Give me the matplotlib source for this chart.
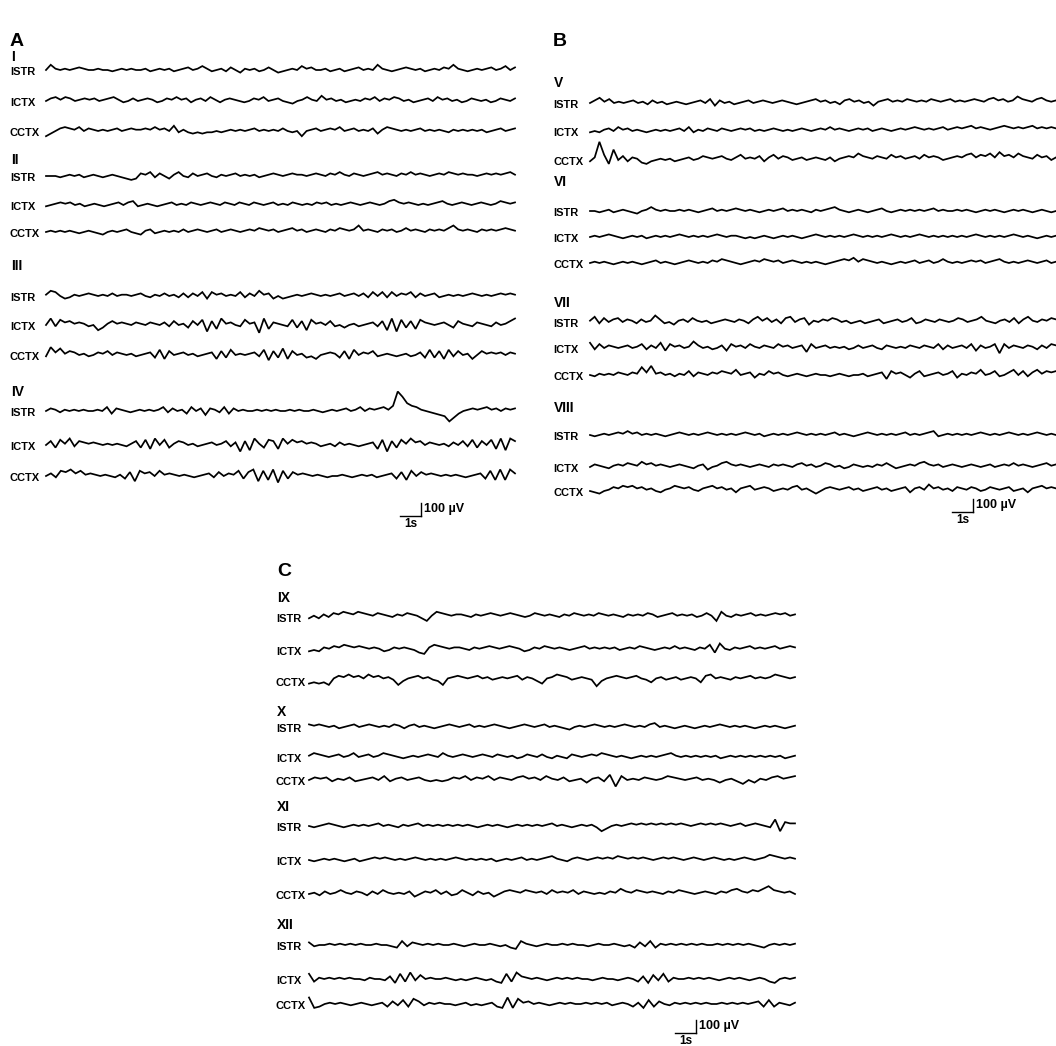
import numpy as np
import matplotlib
matplotlib.use("Agg")
import matplotlib.pyplot as plt

plt.rcParams['font.family'] = ['Liberation Sans', 'DejaVu Sans']

# ---------------- data (EEG samples, units of 10 µV) ----------------
channels = ["ISTR", "ICTX", "CCTX"]

A_I_ISTR = [0,4,1,0,1,0,1,2,1,0,0,1,0,0,-1,0,1,0,1,0,0,1,-1,0,1,0,1,-1,0,1,2,0,1,3,1,-1,0,1,-1,2,0,-2,1,0,1,-1,0,2,0,-2,-1,0,1,0,3,1,2,0,0,1,-1,0,1,-1,0,1,2,0,1,0,4,1,0,-1,0,1,2,1,0,1,-1,0,1,0,2,1,4,1,0,-1,0,1,0,1,2,0,1,3,0,2]
A_I_ICTX = [0,2,3,1,3,2,0,1,2,1,2,0,1,2,3,1,-1,0,2,0,1,2,1,-1,0,2,1,3,1,2,-1,1,2,0,3,1,-1,1,2,1,0,-1,0,2,1,3,0,1,2,0,-1,-2,0,1,3,1,0,4,1,2,0,1,-1,0,1,0,2,1,3,0,2,1,3,2,0,1,-1,0,1,2,0,3,1,2,0,1,-1,0,2,1,0,1,-1,0,2,1,0,2]
A_I_CCTX = [-4,-2,0,2,3,2,1,3,0,2,1,0,1,0,1,2,0,1,2,1,1,2,1,3,1,2,0,4,-1,1,-1,-2,-1,-2,-1,-1,0,-1,0,1,0,1,0,1,2,0,1,0,1,0,2,0,-1,0,-4,0,1,2,0,1,2,1,3,0,1,2,0,1,0,2,-2,1,3,2,1,0,1,0,1,2,0,1,0,1,0,-1,1,0,1,0,1,0,1,-1,0,1,2,0,1,2]

A_II_ISTR = [0,0,0,-1,0,1,0,1,-1,0,1,0,-1,0,1,0,-1,-2,-3,-2,2,1,3,-1,2,0,-2,1,3,0,-1,2,0,1,2,0,-1,1,0,1,2,0,1,0,1,-1,0,1,2,1,0,1,2,1,1,0,1,2,1,0,2,1,3,1,0,2,1,0,1,2,3,1,2,1,0,2,1,3,1,2,1,0,1,2,1,3,2,1,2,1,1,0,1,2,1,2,1,2,3,1]
A_II_ICTX = [-1,0,1,2,1,2,0,1,-1,0,1,0,-1,0,1,2,0,2,3,-1,0,1,0,-1,0,1,2,0,1,0,2,1,0,1,2,1,0,2,1,0,2,1,0,2,1,0,1,2,0,1,0,2,1,0,1,0,2,1,2,0,1,0,1,2,1,0,1,2,1,0,1,3,4,2,1,2,1,0,1,0,1,2,3,1,0,1,2,1,0,1,2,1,0,1,3,2,1,2]
A_II_CCTX = [0,1,0,1,0,1,0,-1,0,1,0,-1,-2,0,1,0,1,2,0,-1,-2,1,2,-1,0,1,0,1,0,2,0,1,2,1,0,1,2,0,1,2,1,0,1,2,1,3,2,1,2,0,1,2,3,1,2,0,1,2,1,0,2,1,3,2,1,2,5,1,2,1,0,2,1,2,0,1,3,1,2,1,0,2,1,2,1,3,5,2,1,2,1,0,2,1,2,1,2,3,2,1]

A_III_ISTR = [1,4,3,0,-2,-1,1,0,1,2,1,0,1,0,2,0,1,1,0,1,2,0,-1,1,0,2,0,1,-1,2,-1,2,0,3,-2,3,1,2,0,1,0,3,-1,2,0,4,1,2,-2,0,-2,-1,0,1,0,1,2,1,0,1,0,1,2,0,1,2,0,2,-1,3,0,3,-1,3,0,2,1,3,-1,2,0,1,2,-1,0,1,0,1,0,1,2,1,0,1,0,1,2,1,2,1]
A_III_ICTX = [0,5,-1,4,2,3,1,2,1,-1,0,-4,-2,1,3,1,2,1,0,2,1,0,2,1,0,2,-1,3,0,1,-2,3,0,4,-5,3,-3,5,1,2,0,-1,4,1,2,-6,5,-3,2,1,0,-1,4,-2,3,-4,4,1,2,0,3,-1,0,-2,0,1,-1,0,1,2,-1,3,-4,5,-5,4,-2,3,-3,4,2,1,0,1,2,0,-2,3,1,0,-1,2,1,0,-1,2,0,1,3,5]
A_III_CCTX = [-1,6,2,5,1,3,2,0,1,-1,0,2,1,3,0,2,1,0,1,-1,0,1,2,-2,4,-3,3,0,1,2,0,1,-1,0,1,2,-3,3,-2,4,0,1,0,1,2,-1,4,-4,3,-2,5,-3,3,0,1,-2,-1,-3,0,1,2,1,-2,3,-3,4,0,2,1,3,-1,0,1,0,-1,0,1,-1,0,2,-2,4,-2,3,-3,4,-1,3,0,1,-3,0,3,1,2,1,2,0,2,1]

A_IV_ISTR = [0,2,1,-1,1,0,1,0,1,0,0,1,0,3,-2,2,1,0,-1,0,1,0,1,0,1,3,-1,2,0,1,-2,3,0,2,-3,2,1,-1,3,-2,2,0,1,0,0,1,0,1,0,1,0,0,1,0,1,0,0,1,0,-1,0,1,0,1,2,0,1,3,0,2,1,2,3,1,4,15,11,6,4,3,1,0,-1,-2,-3,-4,-8,-5,-2,0,1,2,1,2,3,1,2,0,2,1,2]
A_IV_ICTX = [0,3,-2,4,1,5,-1,3,2,1,2,1,0,1,0,1,0,-1,1,3,-2,4,-3,5,0,4,-2,1,3,2,0,1,-1,0,1,2,0,1,3,-1,2,-5,3,-4,5,1,-2,4,3,-3,5,1,4,2,3,1,2,1,-1,0,1,-1,2,0,1,0,-1,0,1,2,-3,4,-5,3,-2,4,1,5,2,3,0,2,1,0,1,-1,2,0,3,-1,4,-2,3,0,4,-3,5,-4,5,3]
A_IV_CCTX = [0,2,-1,4,3,5,2,4,1,2,1,0,1,0,-1,1,-2,3,-4,4,2,3,0,4,1,2,1,0,1,0,-1,0,1,2,-1,3,0,2,1,4,-2,3,5,-4,4,-3,5,-5,4,-2,3,1,2,1,0,1,0,-1,0,0,1,0,-1,0,1,0,1,-1,0,1,2,-2,3,-3,4,0,3,1,2,1,0,1,0,1,0,-1,0,1,2,-2,4,-3,5,-3,5,2]

B_V_ISTR = [0,2,4,1,3,0,1,0,1,2,0,1,-1,2,0,1,-1,0,1,0,-1,0,1,2,0,3,-2,2,0,1,-1,0,1,2,0,1,2,1,0,1,2,1,0,-1,0,1,2,3,1,2,0,1,-1,2,3,1,2,0,1,-2,1,2,3,1,2,1,3,2,1,2,1,3,2,1,2,3,1,2,1,2,3,2,1,3,4,2,3,1,2,5,3,2,1,3,4,2,1,2]
B_V_ICTX = [-1,0,-1,1,2,0,3,1,2,0,1,0,-1,0,1,0,1,0,1,2,0,3,-1,1,0,2,1,0,2,1,0,1,2,1,2,0,1,0,1,2,1,0,1,0,1,2,1,0,1,2,1,3,1,2,1,0,1,2,1,2,0,1,2,1,0,1,2,1,2,3,2,1,2,1,2,3,1,2,3,2,3,4,2,3,2,1,2,3,4,3,2,3,2,3,4,2,3,2,3,2]
B_V_CCTX = [-1,2,14,4,-3,8,0,3,-1,2,1,-2,-3,-1,0,1,0,1,-1,0,1,2,0,1,3,2,1,2,3,1,0,2,4,1,2,1,3,-1,2,4,1,3,2,0,1,2,0,1,2,1,0,2,-1,1,2,3,2,5,3,2,1,3,2,1,4,2,3,1,2,3,1,4,2,3,2,0,1,2,3,2,4,5,2,4,3,5,2,6,3,4,2,5,3,2,1,4,2,3,0,2]

B_VI_ISTR = [0,0,-1,0,1,-1,0,1,0,-1,-2,0,1,3,1,0,1,0,0,1,0,1,0,-1,0,1,2,0,1,0,1,2,1,0,1,0,-1,0,1,0,1,2,0,1,0,1,0,-1,1,0,1,2,3,1,0,-1,0,1,0,-1,0,1,2,0,-1,0,1,0,1,0,1,0,1,2,0,1,0,0,1,0,1,0,-1,0,1,0,1,0,-1,0,1,0,1,0,-1,0,1,0,-1,0]
B_VI_ICTX = [0,1,0,1,2,1,0,-1,0,1,0,1,-1,0,1,0,1,0,1,2,1,0,1,0,1,0,1,2,1,0,1,1,0,-1,0,-1,0,1,0,-1,0,1,0,1,0,-1,0,1,2,1,0,1,0,1,0,1,2,1,0,1,0,1,0,1,2,1,0,1,0,1,2,1,0,1,0,1,0,1,0,1,0,1,2,1,0,1,0,1,0,1,2,1,0,1,0,-1,0,1,0,1]
B_VI_CCTX = [0,1,0,1,0,-1,0,1,0,1,0,-1,0,1,2,0,1,0,-1,0,1,2,1,0,1,0,2,1,3,2,1,0,-1,0,1,2,1,3,2,1,2,0,1,2,1,0,1,0,1,0,-1,0,1,2,3,2,4,1,3,2,1,0,1,0,-1,0,1,0,1,2,0,1,2,0,1,3,1,0,1,0,1,2,1,2,0,1,2,3,1,0,1,0,1,2,1,0,1,2,0,1]

B_VII_ISTR = [1,4,-1,3,0,2,3,0,2,1,-1,2,0,1,5,2,-1,0,-2,1,2,0,3,1,0,1,-1,0,1,2,1,0,2,1,-1,2,4,1,3,0,2,-1,3,4,0,2,3,-2,1,0,2,1,3,2,0,1,-1,0,1,-1,0,1,2,-1,0,1,2,0,1,3,-1,0,2,1,0,2,1,0,1,3,2,0,1,2,4,1,0,-1,1,2,0,3,-1,2,4,1,0,2,1,3,2]
B_VII_ICTX = [4,-1,3,0,2,1,0,1,2,0,1,3,-1,2,0,4,-2,3,1,2,0,1,5,2,0,1,-1,0,2,-2,3,1,2,0,3,1,0,2,1,0,3,1,2,0,1,2,-3,3,0,1,2,0,1,0,1,-1,0,2,0,1,2,0,-1,2,1,0,1,0,2,1,0,2,1,0,3,-1,2,0,1,2,0,3,-2,2,0,1,3,-4,3,0,2,1,0,2,1,-1,2,0,3,2]
B_VII_CCTX = [0,-1,1,0,1,0,2,1,0,2,1,6,2,7,1,2,0,1,-1,1,0,3,-1,2,1,0,2,1,3,2,1,4,0,1,2,-2,1,0,3,1,2,0,-1,0,1,0,-1,0,1,0,0,-1,0,1,0,-1,0,0,1,-1,0,1,2,-3,3,1,2,0,-2,1,3,-1,0,1,2,0,1,3,-2,1,0,2,1,4,0,1,3,-1,0,2,4,0,3,-1,2,4,1,3,2,3]

B_VIII_ISTR = [0,-1,0,1,0,1,2,1,3,1,2,0,1,0,1,0,-1,0,1,2,1,0,1,0,1,2,1,0,1,0,1,0,1,2,1,0,1,-1,0,1,0,1,0,1,2,1,0,1,0,1,0,1,2,0,1,0,-1,0,1,2,1,0,1,0,1,0,1,2,0,1,0,1,2,3,-1,0,1,0,1,0,1,0,1,2,1,0,1,0,1,2,1,0,1,0,1,2,1,0,1,0]
B_VIII_ICTX = [0,2,1,0,-1,1,2,1,3,2,1,4,2,3,1,2,1,0,1,2,1,0,-1,1,2,-2,0,1,3,4,2,1,2,1,0,1,2,1,0,2,1,2,1,0,2,3,1,2,0,1,3,2,0,1,-1,0,2,1,0,1,0,2,1,3,1,-1,0,1,2,1,3,4,2,1,2,0,1,2,1,0,1,2,1,0,1,2,0,1,2,1,3,1,2,1,0,1,2,3,1,2]
B_VIII_CCTX = [0,-1,-2,0,1,3,2,4,3,4,2,3,1,2,0,-1,1,2,4,3,2,3,1,0,2,3,4,2,3,1,2,-1,2,3,4,1,2,3,2,0,1,2,1,3,4,1,2,0,-2,0,2,3,2,1,2,3,1,2,0,1,2,3,1,2,0,1,2,3,-1,2,3,1,5,2,3,1,2,0,3,2,1,3,2,0,1,3,2,1,2,3,0,1,2,-1,2,3,4,2,3,2]

C_IX_ISTR = [-1,1,-1,2,0,3,2,4,3,2,4,3,2,1,3,2,1,0,2,1,3,2,1,-1,-3,1,4,3,2,1,2,2,1,0,2,1,2,3,2,1,2,3,2,1,0,1,3,2,1,2,1,0,2,1,3,2,1,2,1,3,2,1,2,1,0,2,1,2,1,3,2,0,1,2,3,1,2,1,2,0,1,3,1,-3,4,1,0,2,1,2,3,1,2,1,2,3,2,3,1,2]
C_IX_ICTX = [-1,0,-1,2,1,3,2,4,3,2,3,2,1,2,1,-1,0,2,1,2,1,0,-2,-3,2,4,3,2,1,2,2,1,0,2,1,2,3,2,1,2,3,2,1,-1,0,2,1,3,2,1,2,1,0,1,2,3,1,2,1,2,1,2,0,1,2,1,3,2,1,0,1,2,1,3,1,2,1,0,2,1,4,-2,5,1,0,2,1,2,3,1,2,1,2,3,1,2,3,2]
C_IX_CCTX = [-2,-1,-2,-1,-3,2,4,3,5,3,4,2,5,3,4,2,3,1,-3,0,2,3,4,2,3,1,0,-3,2,3,4,3,2,3,4,2,3,1,2,3,2,3,4,1,3,2,0,-2,2,3,5,4,3,1,2,3,2,1,-4,0,2,3,4,3,2,3,4,2,1,-1,2,3,1,2,3,1,2,3,2,-1,4,5,2,3,2,1,3,2,3,4,2,3,2,3,5,4,3,2,3]

C_X_ISTR = [2,1,2,1,0,1,-1,0,1,2,0,1,2,1,0,1,0,2,1,-1,1,2,0,1,0,-1,0,1,2,1,0,1,2,0,1,0,1,2,1,0,-1,0,1,2,1,0,1,2,0,1,0,-1,-2,0,1,0,1,2,1,0,1,0,1,2,1,0,1,0,2,3,0,1,0,-1,0,1,0,-1,0,1,0,1,2,1,0,1,0,1,0,-1,0,1,0,1,0,-1,0,1]
C_X_ICTX = [1,3,2,1,0,1,2,0,1,3,0,1,2,0,1,3,2,1,0,-1,0,1,0,1,2,1,0,3,1,0,1,2,1,0,1,2,1,0,2,1,0,1,-1,0,2,1,0,2,0,-1,1,0,-1,2,1,0,1,2,1,3,2,1,0,1,0,-1,0,1,0,1,0,1,2,3,1,0,1,0,1,0,1,0,1,-1,0,1,0,1,0,1,0,1,0,1,0,1,-1,0,1]
C_X_CCTX = [0,2,1,2,-1,1,0,2,-1,0,1,2,0,3,-1,1,2,0,1,2,0,-1,0,-1,0,2,1,3,0,2,1,3,0,2,1,0,2,3,1,2,0,3,1,0,2,-1,0,1,-2,1,2,-1,4,-5,3,0,1,0,2,1,0,1,3,2,1,0,1,2,0,1,0,-2,0,1,-1,-3,0,-2,1,0,2,3,1,2,3]

C_XI_ISTR = [0,-1,0,1,2,1,0,-1,0,1,0,1,0,1,2,0,1,0,-1,1,0,1,2,0,1,0,1,0,1,0,1,0,1,0,-1,0,1,0,1,0,-1,0,1,0,1,0,1,0,1,2,0,1,0,-1,0,1,0,1,-1,-4,-2,0,1,0,1,2,1,2,1,2,1,2,1,2,1,2,1,0,1,2,1,2,1,2,1,0,1,2,0,1,2,1,0,-1,5,-4,3,2,2]
C_XI_ICTX = [0,-1,0,1,0,1,0,-1,0,1,-1,0,1,2,1,2,1,0,1,0,1,2,1,0,1,0,1,0,1,2,1,0,1,0,1,0,1,-1,0,1,0,1,2,0,1,0,1,2,3,1,0,-1,1,2,1,0,1,2,1,2,1,3,2,1,2,1,2,1,0,1,2,1,2,1,0,1,2,1,0,1,2,1,0,1,0,1,2,1,0,1,2,4,3,2,1,2,1]
C_XI_CCTX = [0,1,-1,2,0,1,3,1,0,2,1,-1,2,0,3,1,0,1,0,2,-2,0,2,1,3,0,2,-1,0,3,1,-1,2,0,1,-2,0,2,3,2,1,3,2,1,2,0,3,1,2,1,3,0,2,1,0,1,0,2,1,4,2,1,3,2,1,2,1,0,2,1,3,2,1,0,1,2,1,0,2,1,3,4,2,1,3,2,4,6,3,2,1,2,0]

C_XII_ISTR = [2,-1,0,0,1,0,1,0,1,0,1,0,0,1,0,0,-1,-2,3,-1,2,1,0,1,0,1,0,0,1,0,-1,0,1,0,0,1,0,-1,0,-2,-3,3,1,0,-1,0,1,0,0,1,0,1,0,0,-1,0,1,0,0,1,0,-1,0,-2,2,-1,3,-2,1,0,1,0,1,0,1,0,1,0,0,1,0,1,0,1,0,1,0,-1,-2,0,1,0,1,0,1]
C_XII_ICTX = [4,-2,1,0,1,0,1,0,1,0,0,-1,1,0,0,-1,2,-3,4,-2,5,-1,3,0,1,0,0,1,0,-1,0,-1,0,1,0,-1,0,-2,-3,4,-2,5,2,1,0,1,0,-1,0,1,0,1,0,1,0,0,-1,0,1,0,0,-1,0,1,0,-2,2,-3,3,-1,4,-2,1,0,0,1,0,1,0,1,0,-1,0,1,0,1,0,-1,0,1,0,-2,-3,0,1,0,1]
C_XII_CCTX = [5,-3,-2,0,1,0,1,0,-1,0,1,0,-1,0,1,-2,2,-1,3,-2,4,2,-1,1,0,1,0,0,-1,0,1,-1,0,-1,0,1,-2,-3,5,-3,4,1,2,0,1,0,-1,0,1,0,1,0,0,1,0,1,0,1,-1,0,1,0,-2,1,-3,3,-2,2,0,-1,1,0,1,0,1,0,1,0,0,1,0,1,0,1,0,1,2,-2,3,-2,1,0,-1,1]

records = {
    "I": [A_I_ISTR, A_I_ICTX, A_I_CCTX],
    "II": [A_II_ISTR, A_II_ICTX, A_II_CCTX],
    "III": [A_III_ISTR, A_III_ICTX, A_III_CCTX],
    "IV": [A_IV_ISTR, A_IV_ICTX, A_IV_CCTX],
    "V": [B_V_ISTR, B_V_ICTX, B_V_CCTX],
    "VI": [B_VI_ISTR, B_VI_ICTX, B_VI_CCTX],
    "VII": [B_VII_ISTR, B_VII_ICTX, B_VII_CCTX],
    "VIII": [B_VIII_ISTR, B_VIII_ICTX, B_VIII_CCTX],
    "IX": [C_IX_ISTR, C_IX_ICTX, C_IX_CCTX],
    "X": [C_X_ISTR, C_X_ICTX, C_X_CCTX],
    "XI": [C_XI_ISTR, C_XI_ICTX, C_XI_CCTX],
    "XII": [C_XII_ISTR, C_XII_ICTX, C_XII_CCTX],
}

# ---------------- layout (pixels) ----------------
W, H = 1056, 1046
PX_PER_S = 21.0
PX_PER_100UV = 13.0

panels = [
    dict(letter="A", box=(0, 25, 530, 535), letter_xy=(10, 42),
         lab_x=10, trace_x=(46, 515),
         groups=[("I", 57, (70, 101, 131)),
                 ("II", 160, (176, 205, 232)),
                 ("III", 266, (296, 325, 355)),
                 ("IV", 392, (411, 445, 476))],
         scale=(400, 516)),
    dict(letter="B", box=(540, 25, 1056, 535), letter_xy=(553, 42),
         lab_x=553, trace_x=(590, 1056),
         groups=[("V", 83, (103, 131, 160)),
                 ("VI", 182, (211, 237, 263)),
                 ("VII", 303, (322, 348, 375)),
                 ("VIII", 408, (435, 467, 491))],
         scale=(952, 512)),
    dict(letter="C", box=(265, 550, 810, 1046), letter_xy=(277, 572),
         lab_x=276, trace_x=(309, 795),
         groups=[("IX", 598, (617, 650, 681)),
                 ("X", 712, (727, 757, 780)),
                 ("XI", 807, (826, 860, 894)),
                 ("XII", 925, (945, 979, 1004))],
         scale=(675, 1033)),
]

fig = plt.figure(figsize=(W / 100, H / 100), dpi=100)
fig.patch.set_facecolor("white")

for p in panels:
    l, t, r, b = p["box"]
    ax = fig.add_axes([l / W, 1 - b / H, (r - l) / W, (b - t) / H])
    ax.set_xlim(0, (r - l) / PX_PER_S)
    ax.set_ylim(-(b - t) / PX_PER_100UV * 100, 0)
    ax.axis("off")

    def X(px):
        return (px - l) / PX_PER_S

    def Y(py):
        return -(py - t) / PX_PER_100UV * 100

    ax.text(X(p["letter_xy"][0]), Y(p["letter_xy"][1]), p["letter"],
            fontsize=14, fontweight="bold", ha="left", va="center")
    x0, x1 = p["trace_x"]
    for name, ny, rows in p["groups"]:
        ax.text(X(p["lab_x"] + 1), Y(ny), name, fontsize=10,
                fontweight="bold", ha="left", va="center")
        for ch, ry, vals in zip(channels, rows, records[name]):
            v = np.asarray(vals, dtype=float) * 10.0  # µV
            tt = np.linspace(X(x0), X(x1), len(v))
            ax.plot(tt, Y(ry) + v, color="black", lw=1.25, clip_on=False,
                    solid_joinstyle="miter")
            ax.text(X(p["lab_x"]), Y(ry + 2), ch, fontsize=8,
                    fontweight="bold", ha="left", va="center")
    # scale bar: 1 s and 100 µV
    sx, sy = p["scale"]
    ax.plot([X(sx), X(sx) + 1.0], [Y(sy), Y(sy)], color="black", lw=1.0)
    ax.plot([X(sx) + 1.0, X(sx) + 1.0], [Y(sy), Y(sy) + 100], color="black", lw=1.0)
    ax.text(X(sx) + 1.15, Y(sy) + 55, "100 µV", fontsize=9,
            fontweight="bold", ha="left", va="center")
    ax.text(X(sx) + 0.5, Y(sy) - 12, "1s", fontsize=8.5,
            fontweight="bold", ha="center", va="top")

fig.savefig("out.png", dpi=100, facecolor="white")
